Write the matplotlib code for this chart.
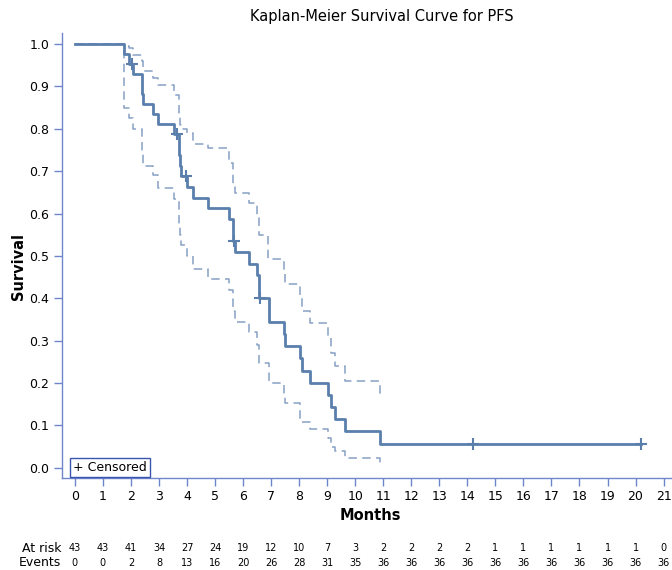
import numpy as np
import matplotlib; matplotlib.use("Agg")
import matplotlib.pyplot as plt
import matplotlib.transforms as mtransforms

# ---- data ----
km_t = [0, 1.75, 1.94, 2.08, 2.38, 2.40, 2.42, 2.79, 2.97, 3.52, 3.70, 3.72, 3.75, 3.80,
        4.00, 4.22, 4.75, 5.50, 5.64, 5.65, 5.70, 6.20, 6.50, 6.55, 6.57, 6.92, 6.93,
        7.46, 7.50, 8.02, 8.10, 8.38, 9.03, 9.15, 9.27, 9.63, 10.90, 20.20]
km_s = [1.0, 0.977, 0.953, 0.930, 0.906, 0.882, 0.858, 0.834, 0.811, 0.787, 0.762, 0.738,
        0.713, 0.689, 0.663, 0.637, 0.612, 0.587, 0.561, 0.536, 0.509, 0.482, 0.455, 0.428,
        0.401, 0.372, 0.344, 0.315, 0.287, 0.258, 0.229, 0.201, 0.172, 0.143, 0.115, 0.086,
        0.057, 0.057]

up_t = [0, 1.75, 1.94, 2.08, 2.38, 2.42, 2.79, 2.97, 3.52, 3.70, 3.75, 3.80, 4.00, 4.22,
        4.75, 5.50, 5.64, 5.70, 6.20, 6.50, 6.57, 6.88, 7.46, 7.50, 8.02, 8.10, 8.38, 9.03,
        9.15, 9.27, 9.63, 10.90]
up_s = [1.0, 0.995, 0.99, 0.975, 0.96, 0.936, 0.92, 0.903, 0.88, 0.83, 0.81, 0.80, 0.79,
        0.765, 0.755, 0.72, 0.67, 0.649, 0.626, 0.59, 0.55, 0.493, 0.465, 0.434, 0.40, 0.37,
        0.341, 0.31, 0.27, 0.24, 0.204, 0.165]

lo_t = [0, 1.75, 1.94, 2.08, 2.38, 2.40, 2.42, 2.79, 2.97, 3.52, 3.70, 3.72, 3.75, 3.80,
        4.00, 4.22, 4.75, 5.50, 5.64, 5.70, 6.20, 6.50, 6.55, 6.57, 6.93, 7.46, 7.50, 8.02,
        8.38, 9.03, 9.15, 9.27, 9.63, 10.90]
lo_s = [1.0, 0.85, 0.825, 0.80, 0.77, 0.74, 0.712, 0.69, 0.66, 0.635, 0.60, 0.57, 0.55,
        0.526, 0.50, 0.47, 0.446, 0.42, 0.37, 0.345, 0.32, 0.29, 0.27, 0.248, 0.201, 0.175,
        0.154, 0.109, 0.091, 0.07, 0.05, 0.04, 0.023, 0.012]

cens_t = [2.02, 3.65, 3.96, 5.66, 6.60, 14.20, 20.20]
cens_s = [0.953, 0.787, 0.689, 0.536, 0.401, 0.057, 0.057]

months = list(range(0, 22))
at_risk = [43, 43, 41, 34, 27, 24, 19, 12, 10, 7, 3, 2, 2, 2, 2, 1, 1, 1, 1, 1, 1, 0]
events = [0, 0, 2, 8, 13, 16, 20, 26, 28, 31, 35, 36, 36, 36, 36, 36, 36, 36, 36, 36, 36, 36]

LINE = "#5a7fac"
CI = "#86a0c4"
SPINE = "#6f86cc"

fig = plt.figure(figsize=(6.72, 5.70), dpi=100)
ax = fig.add_axes([62 / 672, 92 / 570, 1 - 62 / 672, 445 / 570])

ax.step(up_t, up_s, where="post", color=CI, lw=1.1, ls=(0, (5.5, 3.5)))
ax.step(lo_t, lo_s, where="post", color=CI, lw=1.1, ls=(0, (5.5, 3.5)))
ax.step(km_t, km_s, where="post", color=LINE, lw=2.0)
ax.plot(cens_t, cens_s, ls="none", marker="+", ms=9, mew=1.5, color=LINE)

ax.set_xlim(-0.46, 21.3)
ax.set_ylim(-0.024, 1.026)
ax.set_xticks(months)
ax.set_yticks(np.arange(0, 1.01, 0.1))
ax.set_yticklabels([f"{v:.1f}" for v in np.arange(0, 1.01, 0.1)])
for s in ["top", "right"]:
    ax.spines[s].set_visible(False)
for s in ["left", "bottom"]:
    ax.spines[s].set_color(SPINE)
    ax.spines[s].set_linewidth(1.0)
ax.tick_params(colors=SPINE, labelcolor="black", labelsize=9, length=6, width=1.0, pad=3)

fig.text(382 / 672, 1 - 16 / 570, "Kaplan-Meier Survival Curve for PFS", ha="center",
         va="center", fontsize=10.5)
fig.text(18 / 672, 1 - 266 / 570, "Survival", rotation=90, ha="center", va="center",
         fontsize=10.5, fontweight="semibold")
fig.text(370 / 672, 1 - 516 / 570, "Months", ha="center", va="center", fontsize=10.5,
         fontweight="semibold")

# number-at-risk table
tr = mtransforms.blended_transform_factory(ax.transData, fig.transFigure)
fig.text(61 / 672, 1 - 548 / 570, "At risk", ha="right", va="center", fontsize=9)
fig.text(61 / 672, 1 - 563 / 570, "Events", ha="right", va="center", fontsize=9)
for m, r, e in zip(months, at_risk, events):
    ax.text(m, 1 - 548 / 570, str(r), transform=tr, ha="center", va="center", fontsize=7)
    ax.text(m, 1 - 563 / 570, str(e), transform=tr, ha="center", va="center", fontsize=7)

# censored legend box
ax.text(-0.08, 0.0, "+ Censored", fontsize=9, ha="left", va="center",
        bbox=dict(boxstyle="square,pad=0.25", fc="white", ec="#3a55b0", lw=1.0))

fig.savefig("out.png", dpi=100)
